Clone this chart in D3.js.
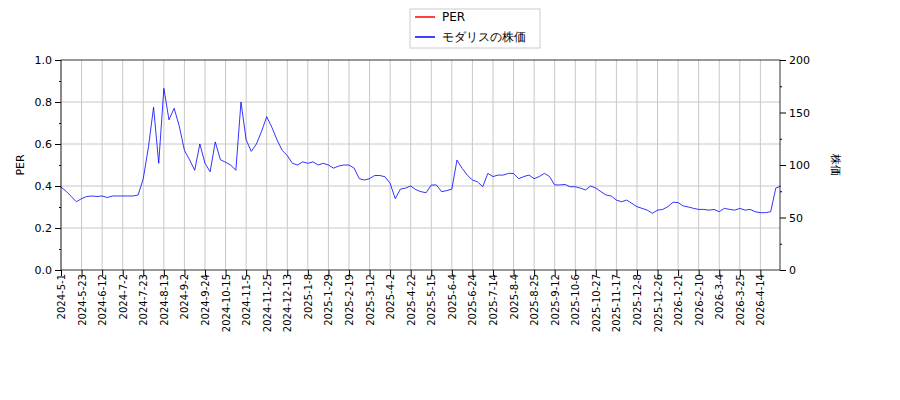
<!DOCTYPE html>
<html>
<head>
<meta charset="utf-8">
<script src="https://cdn.jsdelivr.net/npm/d3@7"></script>
<style>
body { margin: 0; background: #fff; }
text { font-family: "DejaVu Sans", sans-serif; }
</style>
</head>
<body>
<script>
// tick labels (one every 14 trading days)
var tickLabels = ["2024-5-1","2024-5-23","2024-6-12","2024-7-2","2024-7-23","2024-8-13","2024-9-2","2024-9-24",
  "2024-10-15","2024-11-5","2024-11-25","2024-12-13","2025-1-8","2025-1-29","2025-2-19","2025-3-12","2025-4-2",
  "2025-4-22","2025-5-15","2025-6-4","2025-6-24","2025-7-14","2025-8-4","2025-8-25","2025-9-12","2025-10-6",
  "2025-10-27","2025-11-17","2025-12-8","2025-12-26","2026-1-21","2026-2-10","2026-3-4","2026-3-25","2026-4-14"];

// stock price, sampled 4 times per tick interval
var price = [
  79,75,70,65, 68,70,70.5,70, 70.5,69,70.5,70.5, 70.5,70.5,70.5,71.4,
  87,117,155,101.6, 173,143,154,137, 114,105,95,120, 101.6,93.6,122,105,
  102.6,100,95,160, 124,113,120,132, 146,136,124,114, 109,101.6,100,103,
  101.6,103,100,101.6, 100,97,99,100, 100,97,87,85.7, 87,90,90,88.8,
  82.5,68,77,78, 80,76.5,74.6,73.6, 80.9,81,74.6,75.6, 77,104.7,96.8,90.4,
  85.7,84,79.3,92, 89,90.4,90.4,92, 92,87,89,90.4, 87,89,92,89,
  81,81,81.5,79.3, 79.3,78,76.2,80, 78,74.6,71.4,70.5, 66.6,65,66.6,63.5,
  60.3,58.7,57,54, 57,57.7,60.3,64.5, 64.2,61,60,58.7, 57.7,57.7,57,57.7,
  55.5,58.7,57.7,57, 58.7,57,57.7,55.5, 54.6,54.6,55.5,78, 80
];
var per = []; // no PER values shown

var mLeft = 61, mRight = 780, mTop = 60, mBottom = 270;

var svg = d3.select("body").append("svg")
    .attr("width", 900).attr("height", 400);

var x = d3.scaleLinear().domain([0, 35]).range([mLeft, mLeft + 35 * 20.57]);
var yL = d3.scaleLinear().domain([0, 1]).range([mBottom, mTop]);
var yR = d3.scaleLinear().domain([0, 200]).range([mBottom, mTop]);

//grid
svg.append("g").selectAll("line").data(d3.range(tickLabels.length)).enter().append("line")
    .attr("x1", d => x(d)).attr("x2", d => x(d)).attr("y1", mTop).attr("y2", mBottom)
    .attr("stroke", "#c8c8c8");
svg.append("g").selectAll("line").data([0.2, 0.4, 0.6, 0.8]).enter().append("line")
    .attr("x1", mLeft).attr("x2", mRight).attr("y1", d => yL(d)).attr("y2", d => yL(d))
    .attr("stroke", "#c8c8c8");

//price line
var line = d3.line().x((d, i) => x(i / 4)).y(d => yR(d));
svg.append("path").datum(price).attr("d", line)
    .attr("fill", "none").attr("stroke", "blue").attr("stroke-width", 0.8);

//frame
svg.append("rect").attr("x", mLeft).attr("y", mTop).attr("width", mRight - mLeft).attr("height", mBottom - mTop)
    .attr("fill", "none").attr("stroke", "#000").attr("stroke-width", 0.8);

//axes
var xAxis = svg.append("g").attr("transform", "translate(0," + mBottom + ")")
    .call(d3.axisBottom(x).tickValues(d3.range(tickLabels.length)).tickFormat(i => tickLabels[i]).tickSizeOuter(0));

svg.append("g").attr("transform", "translate(" + mLeft + ",0)")
    .call(d3.axisLeft(yL).tickValues([0, 0.2, 0.4, 0.6, 0.8, 1]).tickFormat(d3.format(".1f")).tickSizeOuter(0));
svg.append("g").attr("transform", "translate(" + mLeft + ",0)")
    .call(d3.axisLeft(yL).tickValues([0.1, 0.3, 0.5, 0.7, 0.9]).tickFormat("").tickSize(2).tickSizeOuter(0));
svg.append("g").attr("transform", "translate(" + mRight + ",0)")
    .call(d3.axisRight(yR).tickValues([0, 50, 100, 150, 200]).tickSizeOuter(0));
svg.append("g").attr("transform", "translate(" + mRight + ",0)")
    .call(d3.axisRight(yR).tickValues([25, 75, 125, 175]).tickFormat("").tickSize(2).tickSizeOuter(0));
svg.selectAll(".domain").remove();
svg.selectAll(".tick text").style("font-size", "11px").attr("fill", "#000");
xAxis.selectAll("text").attr("transform", "rotate(-90)").attr("text-anchor", "end")
    .attr("x", -4).attr("y", 0).attr("dy", "0.35em").style("font-size", "10px");

svg.append("text").attr("transform", "translate(24,165) rotate(-90)").attr("text-anchor", "middle")
    .style("font-size", "11px").text("PER");
svg.append("text").attr("transform", "translate(832,165) rotate(90)").attr("text-anchor", "middle")
    .style("font-size", "11px").text("株価");

//legend
var lg = svg.append("g");
lg.append("rect").attr("x", 410).attr("y", 9).attr("width", 130).attr("height", 39)
    .attr("fill", "#fff").attr("stroke", "#ccc");
var items = [{name: "PER", color: "red"}, {name: "モダリスの株価", color: "blue"}];
items.forEach(function(it, i) {
    var yy = 17 + i * 20;
    lg.append("line").attr("x1", 415).attr("x2", 435).attr("y1", yy).attr("y2", yy)
        .attr("stroke", it.color).attr("stroke-width", 1.5);
    lg.append("text").attr("x", 442).attr("y", yy + 4).style("font-size", "12px").text(it.name);
});
</script>
</body>
</html>
